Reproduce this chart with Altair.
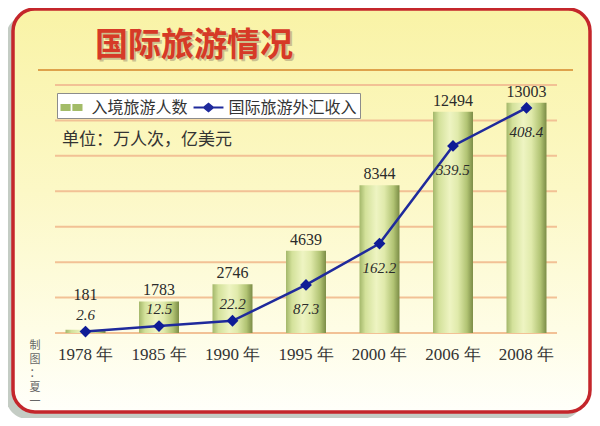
import altair as alt
import pandas as pd

# ---------------- data ----------------
years = ["1978 年", "1985 年", "1990 年", "1995 年", "2000 年", "2006 年", "2008 年"]
visitors = [181, 1783, 2746, 4639, 8344, 12494, 13003]      # 入境旅游人数（万人次）
income = [2.6, 12.5, 22.2, 87.3, 162.2, 339.5, 408.4]       # 国际旅游外汇收入（亿美元）
series_names = ["入境旅游人数", "国际旅游外汇收入"]
grid_values = [0, 2000, 4000, 6000, 8000, 10000, 12000, 14000]
title_text = "国际旅游情况"
unit_text = "单位：万人次，亿美元"
credit_lines = ["制", "图", "：", "夏", "一"]

# ---------------- layout ----------------
W, H = 502, 248
df = pd.DataFrame({"year": years, "visitors": visitors, "income": income})
one = pd.DataFrame({"k": [0]})
grid_df = pd.DataFrame({"g": grid_values})
legend_df = pd.DataFrame({"series": series_names})

bar_y = alt.Scale(domain=[0, 14000], nice=False, zero=True)
line_y = alt.Scale(domain=[0, 450], nice=False, zero=True)

x_enc = alt.X(
    "year:N",
    sort=years,
    scale=alt.Scale(domain=years, paddingInner=0.456, paddingOuter=0.143),
    axis=alt.Axis(
        title=None, labelAngle=0, domain=False, ticks=False, tickSize=0,
        labelPadding=13, labelFont="Liberation Serif", labelFontSize=17,
        labelColor="#333333", grid=False, zindex=2,
    ),
)

panel_fill = alt.Gradient(
    gradient="linear",
    stops=[
        alt.GradientStop(color="#f9f3a6", offset=0),
        alt.GradientStop(color="#fcf8c6", offset=0.45),
        alt.GradientStop(color="#fefde6", offset=0.8),
        alt.GradientStop(color="#fffffa", offset=1),
    ],
    x1=0, x2=0, y1=0, y2=1,
)

bar_fill = alt.Gradient(
    gradient="linear",
    stops=[
        alt.GradientStop(color="#a3b76a", offset=0),
        alt.GradientStop(color="#d3e19a", offset=0.15),
        alt.GradientStop(color="#eef4c2", offset=0.42),
        alt.GradientStop(color="#e0eaab", offset=0.62),
        alt.GradientStop(color="#b1c373", offset=0.85),
        alt.GradientStop(color="#7b8c46", offset=1),
    ],
    x1=0, x2=1, y1=0, y2=0,
)

shadow = alt.Chart(one).mark_rect(cornerRadius=22, color="#c4ccc4").encode(
    x=alt.value(-49), x2=alt.value(528), y=alt.value(-70), y2=alt.value(334)
)
frame = alt.Chart(one).mark_rect(
    cornerRadius=22, fill=panel_fill, stroke="#c4262b", strokeWidth=3.5
).encode(x=alt.value(-42), x2=alt.value(535), y=alt.value(-76), y2=alt.value(327))

underline = alt.Chart(one).mark_rule(color="#dea24c", strokeWidth=2).encode(
    x=alt.value(-17), x2=alt.value(518), y=alt.value(-15)
)

title_shadow = alt.Chart(one).mark_text(
    text=title_text, font="Noto Sans CJK SC", fontSize=33, fontWeight="bold",
    align="left", baseline="middle", color="#8a7560", opacity=0.4,
).encode(x=alt.value(42), y=alt.value(-37))
title = alt.Chart(one).mark_text(
    text=title_text, font="Noto Sans CJK SC", fontSize=33, fontWeight="bold",
    align="left", baseline="middle", color="#d63a27",
).encode(x=alt.value(40), y=alt.value(-39))

grid = alt.Chart(grid_df).mark_rule(color="#f2c195", strokeWidth=2).encode(
    y=alt.Y("g:Q", scale=bar_y, axis=None), x=alt.value(0), x2=alt.value(W)
)

bars = alt.Chart(df).mark_bar(fill=bar_fill).encode(
    x=x_enc, y=alt.Y("visitors:Q", scale=bar_y, axis=None)
)

bar_labels = alt.Chart(df).transform_calculate(
    ly="max(datum.visitors, 1500)"
).mark_text(
    font="Liberation Serif", fontSize=16, baseline="bottom", dy=-3, color="#2b2b2b"
).encode(
    x=x_enc, y=alt.Y("ly:Q", scale=bar_y, axis=None), text=alt.Text("visitors:Q", format="d")
)

line = alt.Chart(df).mark_line(color="#1f2a9c", strokeWidth=2.5).encode(
    x=x_enc, y=alt.Y("income:Q", scale=line_y, axis=None)
)
points = alt.Chart(df).mark_point(
    shape="diamond", filled=True, size=140, color="#0f1c96", opacity=1
).encode(x=x_enc, y=alt.Y("income:Q", scale=line_y, axis=None))

lab_above = alt.Chart(df).transform_filter("datum.income < 50").mark_text(
    font="Liberation Serif", fontStyle="italic", fontSize=15, dy=-17, color="#2b2b2b"
).encode(
    x=x_enc, y=alt.Y("income:Q", scale=line_y, axis=None),
    text=alt.Text("income:Q", format=".1f"),
)
lab_below = alt.Chart(df).transform_filter("datum.income >= 50").mark_text(
    font="Liberation Serif", fontStyle="italic", fontSize=15, dy=24, color="#2b2b2b"
).encode(
    x=x_enc, y=alt.Y("income:Q", scale=line_y, axis=None),
    text=alt.Text("income:Q", format=".1f"),
)

unit = alt.Chart(one).mark_text(
    text=unit_text, font="Noto Sans CJK SC", fontSize=17, align="left",
    baseline="middle", color="#333333",
).encode(x=alt.value(7), y=alt.value(55))

credit = alt.Chart(one).mark_text(
    text=credit_lines, font="Noto Sans CJK SC", fontSize=11, lineHeight=14,
    align="center", baseline="top", color="#666666",
).encode(x=alt.value(-20), y=alt.value(255))

bar_sym = "M-1,-0.32H-0.08V0.32H-1Z M0.08,-0.32H1V0.32H0.08Z"
line_sym = "M-1.36,-0.1H-0.45L0,-0.45L0.45,-0.1H1.36V0.1H0.45L0,0.45L-0.45,0.1H-1.36Z"

leg = alt.Legend(
    title=None, orient="none", legendX=2, legendY=8, direction="horizontal",
    fillColor="white", strokeColor="#8c8c8c", padding=2.5, cornerRadius=0,
    symbolSize=484, symbolOpacity=1, labelFont="Noto Sans CJK SC", labelFontSize=16,
    labelColor="#333333", labelOffset=8, columnPadding=2, labelLimit=300,
)

legend_layer = alt.Chart(legend_df).mark_point(filled=True, opacity=0).encode(
    x=alt.value(0), y=alt.value(0),
    color=alt.Color("series:N", scale=alt.Scale(domain=series_names, range=["#a3bc68", "#1f2a9c"]), legend=leg),
    shape=alt.Shape("series:N", scale=alt.Scale(domain=series_names, range=[bar_sym, line_sym]), legend=leg),
)

chart = alt.layer(
    shadow, frame, underline, title_shadow, title, grid, bars, bar_labels,
    line, points, lab_above, lab_below, unit, credit, legend_layer,
).resolve_scale(y="independent").properties(
    width=W, height=H,
    autosize=alt.AutoSizeParams(type="none"),
    padding={"left": 47, "top": 77, "right": 35, "bottom": 85},
    background="white",
).configure_view(stroke="transparent")

chart.save("out.html", embed_options={"renderer": "svg", "actions": False})
